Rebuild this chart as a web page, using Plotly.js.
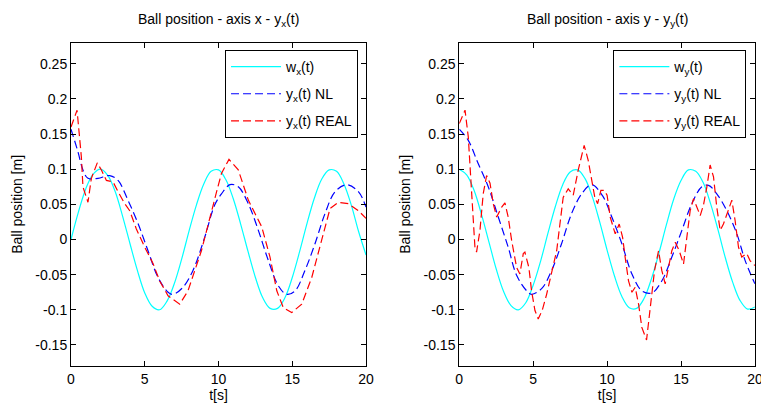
<!DOCTYPE html>
<html>
<head>
<meta charset="utf-8">
<script src="https://cdn.plot.ly/plotly-3.0.1.min.js"></script>
<style>html,body{margin:0;padding:0;background:#fff;}#plot{width:761px;height:406px;}</style>
</head>
<body>
<div id="plot"></div>
<script>
// ---------- data ----------
// reference signals, sampled every 0.5 s
const tRef = [0,0.5,1,1.5,2,2.5,3,3.5,4,4.5,5,5.5,6,6.5,7,7.5,8,8.5,9,9.5,10,10.5,11,11.5,12,12.5,13,13.5,14,14.5,15,15.5,16,16.5,17,17.5,18,18.5,19,19.5,20];
const wx = [0,0.039,0.072,0.093,0.100,0.091,0.068,0.033,-0.006,-0.044,-0.076,-0.095,-0.100,-0.088,-0.063,-0.028,0.012,0.049,0.079,0.097,0.099,0.085,0.058,0.022,-0.017,-0.054,-0.083,-0.098,-0.098,-0.083,-0.054,-0.017,0.023,0.059,0.086,0.099,0.097,0.079,0.049,0.011,-0.022];
const wy = [0.100,0.092,0.070,0.036,-0.003,-0.042,-0.074,-0.094,-0.100,-0.090,-0.065,-0.031,0.009,0.047,0.078,0.096,0.099,0.087,0.061,0.025,-0.015,-0.052,-0.081,-0.097,-0.098,-0.084,-0.056,-0.020,0.020,0.057,0.084,0.099,0.097,0.081,0.051,0.014,-0.026,-0.061,-0.087,-0.099,-0.096];

// y_x(t) NL
const tNLx = [0,0.47,0.81,1.15,1.83,2.62,3.19,3.86,4.54,5.22,5.9,6.58,6.92,7.59,8.27,9.06,9.74,10.2,10.78,11.34,12.02,12.7,13.38,14.06,14.62,15.19,15.86,16.54,17.22,17.9,18.69,19.48,20];
const yNLx = [0.157,0.125,0.099,0.087,0.087,0.091,0.084,0.056,0.023,-0.016,-0.054,-0.075,-0.078,-0.068,-0.044,0.003,0.049,0.065,0.078,0.075,0.051,0.013,-0.030,-0.066,-0.078,-0.073,-0.044,-0.006,0.037,0.068,0.078,0.068,0.046];

// y_x(t) REAL
const tRLx = [0,0.41,0.7,0.81,1.15,1.38,1.78,2.06,2.4,2.85,3.19,3.64,3.98,4.43,5.0,5.56,6.01,6.58,7.37,7.93,8.84,9.51,9.92,10.2,10.71,11.34,12.02,12.93,13.49,13.95,14.39,14.96,15.64,16.32,17.0,17.56,18.12,18.8,19.48,20];
const yRLx = [0.160,0.184,0.118,0.075,0.053,0.087,0.109,0.099,0.084,0.082,0.068,0.051,0.041,0.015,-0.011,-0.034,-0.059,-0.080,-0.092,-0.073,-0.016,0.041,0.072,0.094,0.114,0.099,0.056,0.018,-0.025,-0.073,-0.097,-0.104,-0.092,-0.054,-0.001,0.044,0.053,0.051,0.041,0.030];

// y_y(t) NL
const tNLy = [0,0.61,1.28,1.96,2.64,3.31,3.88,4.56,4.89,5.57,6.25,6.92,7.6,8.28,8.95,9.7,10.32,11.0,11.68,12.35,13.03,13.7,14.38,15.06,15.73,16.41,16.86,17.42,18.1,18.78,19.34,20];
const yNLy = [0.157,0.141,0.108,0.075,0.032,-0.011,-0.051,-0.073,-0.078,-0.070,-0.044,-0.006,0.037,0.065,0.078,0.062,0.032,-0.006,-0.049,-0.073,-0.076,-0.059,-0.025,0.013,0.051,0.075,0.077,0.065,0.041,0.008,-0.030,-0.063];

// y_y(t) REAL
const tRLy = [0,0.39,0.61,0.84,1.06,1.17,1.4,1.62,1.85,2.08,2.3,2.53,2.87,3.09,3.31,3.54,3.88,4.1,4.33,4.44,4.71,4.89,5.12,5.34,5.61,5.91,6.25,6.59,6.81,7.03,7.37,7.71,8.05,8.28,8.45,8.72,8.95,9.17,9.36,9.58,9.8,10.0,10.21,10.55,10.82,11.05,11.22,11.45,11.68,11.9,12.13,12.35,12.67,13.03,13.21,13.48,13.7,13.93,14.16,14.38,14.61,14.88,15.17,15.4,15.62,15.85,16.07,16.3,16.52,16.75,16.97,17.2,17.42,17.65,17.87,18.16,18.44,18.66,18.89,19.11,19.45,19.67,20];
const yRLy = [0.165,0.184,0.146,0.056,-0.011,-0.018,0.013,0.065,0.091,0.080,0.051,0.032,0.046,0.052,0.032,-0.001,-0.040,-0.049,-0.020,-0.018,-0.040,-0.073,-0.101,-0.113,-0.101,-0.078,-0.049,-0.016,0.022,0.060,0.072,0.063,0.099,0.122,0.134,0.113,0.084,0.060,0.051,0.070,0.070,0.063,0.032,0.008,0.022,0.003,-0.025,-0.059,-0.075,-0.068,-0.092,-0.125,-0.143,-0.082,-0.044,-0.016,-0.044,-0.063,-0.040,-0.016,-0.004,-0.016,-0.035,0.003,0.041,0.058,0.046,0.034,0.049,0.075,0.106,0.089,0.046,0.013,0.022,0.041,0.056,0.027,-0.011,-0.025,-0.020,-0.030,-0.037];

const xTicks = [0,5,10,15,20];
const yTicks = [-0.15,-0.1,-0.05,0,0.05,0.1,0.15,0.2,0.25];
const yTickText = ['-0.15','-0.1','-0.05','0','0.05','0.1','0.15','0.2','0.25'];

const titles = ['Ball position - axis x - y<sub>x</sub>(t)','Ball position - axis y - y<sub>y</sub>(t)'];
const namesX = ['w<sub>x</sub>(t)','y<sub>x</sub>(t) NL','y<sub>x</sub>(t) REAL'];
const namesY = ['w<sub>y</sub>(t)','y<sub>y</sub>(t) NL','y<sub>y</sub>(t) REAL'];

// ---------- styles ----------
const FONT = 'Liberation Sans, Arial, sans-serif';
const FS = 14;
const cyanLine = {color:'#00FFFF', width:1.2, shape:'spline'};
const blueLine = {color:'#0000FF', width:1.2, dash:'8px,4px', shape:'spline'};
const redLine  = {color:'#FF0000', width:1.2, dash:'8px,4px'};

const traces = [
  {x:tRef, y:wx, xaxis:'x', yaxis:'y', mode:'lines', name:namesX[0], line:cyanLine, legend:'legend', legendgroup:'a1'},
  {x:tNLx, y:yNLx, xaxis:'x', yaxis:'y', mode:'lines', name:namesX[1], line:blueLine, legend:'legend', legendgroup:'a2'},
  {x:tRLx, y:yRLx, xaxis:'x', yaxis:'y', mode:'lines', name:namesX[2], line:redLine, legend:'legend', legendgroup:'a3'},
  {x:tRef, y:wy, xaxis:'x2', yaxis:'y2', mode:'lines', name:namesY[0], line:cyanLine, legend:'legend2', legendgroup:'b1'},
  {x:tNLy, y:yNLy, xaxis:'x2', yaxis:'y2', mode:'lines', name:namesY[1], line:blueLine, legend:'legend2', legendgroup:'b2'},
  {x:tRLy, y:yRLy, xaxis:'x2', yaxis:'y2', mode:'lines', name:namesY[2], line:redLine, legend:'legend2', legendgroup:'b3'}
];

function xa(domain){
  return {domain:domain, range:[0,20], tickvals:xTicks, ticks:'inside', ticklen:5, tickcolor:'#000',
    showline:true, linecolor:'#000', linewidth:1, mirror:'ticks', showgrid:false, zeroline:false,
    ticklabeloverflow:'allow',
    tickfont:{family:FONT,size:FS,color:'#000'},
    title:{text:'t[s]', font:{family:FONT,size:FS,color:'#000'}, standoff:0}};
}
function ya(anchor){
  return {domain:[0.0985,0.8948], range:[-0.18,0.28], tickvals:yTicks, ticktext:yTickText, anchor:anchor,
    ticks:'inside', ticklen:5, tickcolor:'#000',
    showline:true, linecolor:'#000', linewidth:1, mirror:'ticks', showgrid:false, zeroline:false,
    tickfont:{family:FONT,size:FS,color:'#000'},
    title:{text:'Ball position [m]', font:{family:FONT,size:FS,color:'#000'}, standoff:9}};
}
const legendStyle = {yanchor:'top', xanchor:'left', y:0.877, bgcolor:'#fff', bordercolor:'#000', borderwidth:1,
  font:{family:FONT,size:FS,color:'#000'}, tracegroupgap:6, traceorder:'grouped', itemwidth:50};

const layout = {
  width:761, height:406, margin:{l:0,r:0,t:0,b:0}, paper_bgcolor:'#fff', plot_bgcolor:'#fff',
  showlegend:true,
  xaxis: Object.assign(xa([0.0933,0.481]),{anchor:'y'}),
  yaxis: ya('x'),
  xaxis2: Object.assign(xa([0.6035,0.992]),{anchor:'y2'}),
  yaxis2: ya('x2'),
  legend: Object.assign({x:0.2957}, legendStyle),
  legend2: Object.assign({x:0.806}, legendStyle),
  annotations:[
    {text:titles[0], xref:'paper', yref:'paper', x:0.287, y:0.951, xanchor:'center', yanchor:'middle', showarrow:false, font:{family:FONT,size:FS,color:'#000'}},
    {text:titles[1], xref:'paper', yref:'paper', x:0.7978, y:0.951, xanchor:'center', yanchor:'middle', showarrow:false, font:{family:FONT,size:FS,color:'#000'}}
  ]
};
Plotly.newPlot('plot', traces, layout, {displayModeBar:false, staticPlot:true});
</script>
</body>
</html>
